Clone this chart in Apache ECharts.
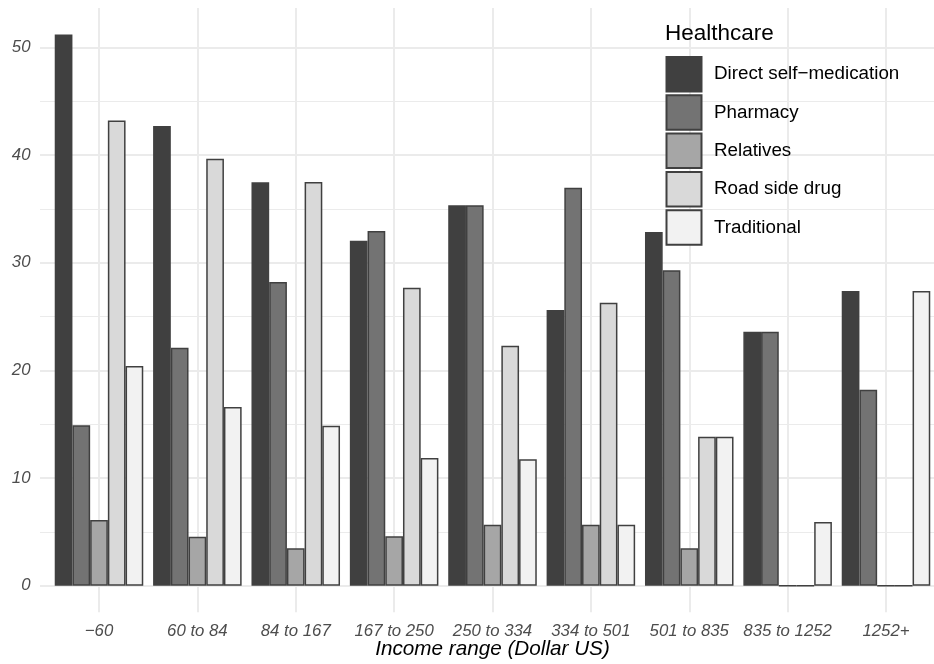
<!DOCTYPE html>
<html><head><meta charset="utf-8">
<script src="https://cdn.jsdelivr.net/npm/echarts@6/dist/echarts.min.js"></script>
<style>html,body{margin:0;padding:0;background:#fff}#c{width:934px;height:664px}</style>
</head><body><div id="c"></div>
<script>
const categories = ['\u221260', '60 to 84', '84 to 167', '167 to 250', '250 to 334', '334 to 501', '501 to 835', '835 to 1252', '1252+'];
const seriesNames = ['Direct self\u2212medication', 'Pharmacy', 'Relatives', 'Road side drug', 'Traditional'];
const directSelfMedication = [51.2, 42.7, 37.46, 32.04, 35.33, 25.6, 32.85, 23.59, 27.37];
const pharmacy = [14.9, 22.1, 28.2, 32.94, 35.33, 36.96, 29.3, 23.59, 18.2];
const relatives = [6.1, 4.55, 3.47, 4.6, 5.66, 5.66, 3.47, 0, 0];
const roadSideDrug = [43.2, 39.65, 37.5, 27.67, 22.29, 26.28, 13.84, 0, 0];
const traditional = [20.4, 16.6, 14.85, 11.86, 11.74, 5.66, 13.84, 5.92, 27.37];
const yTickStep = 10;
const fills = ['#404040', '#737373', '#a6a6a6', '#d9d9d9', '#f2f2f2'];
const values = [directSelfMedication, pharmacy, relatives, roadSideDrug, traditional];

const FONT = "'Liberation Sans', Arial, sans-serif";
const chart = echarts.init(document.getElementById('c'), null, {renderer: 'canvas'});
chart.setOption({
  animation: false,
  backgroundColor: '#ffffff',
  title: {
    text: 'Healthcare', left: 665, top: 22, padding: 0,
    textStyle: {fontFamily: FONT, fontSize: 22.5, fontWeight: 'normal', color: '#000000'}
  },
  legend: {
    orient: 'vertical', left: 665.5, top: 56, padding: 0,
    itemWidth: 35, itemHeight: 34.5, itemGap: 1.8,
    icon: 'rect',
    data: seriesNames,
    textStyle: {fontFamily: FONT, fontSize: 18.8, color: '#000000', padding: [0, 0, 0, 7.5]}
  },
  grid: [
    {left: 40, right: 0, top: -6.5, bottom: 78.3, containLabel: false, outerBoundsMode: 'none'},
    {left: 99, right: 48, top: 8, bottom: 51.7, containLabel: false, outerBoundsMode: 'none'}
  ],
  xAxis: [
    {gridIndex: 0, type: 'value', min: 0, max: 1, show: false},
    {
      gridIndex: 1, type: 'category', data: categories, boundaryGap: false,
      axisLine: {show: false}, axisTick: {show: false},
      splitLine: {show: true, lineStyle: {color: '#ebebeb', width: 2}},
      axisLabel: {margin: 11, fontFamily: FONT, fontSize: 16.8, fontStyle: 'italic', color: '#4d4d4d', interval: 0},
      name: 'Income range (Dollar US)', nameLocation: 'middle', nameGap: 26, nameMoveOverlap: false,
      nameTextStyle: {fontFamily: FONT, fontSize: 20.7, fontStyle: 'italic', color: '#000000'}
    }
  ],
  yAxis: [
    {
      gridIndex: 0, type: 'value', min: 0, max: 55, interval: yTickStep,
      axisLine: {show: false}, axisTick: {show: false},
      splitLine: {show: true, lineStyle: {color: '#ebebeb', width: 2}},
      minorTick: {show: false, splitNumber: 2},
      minorSplitLine: {show: true, lineStyle: {color: '#ebebeb', width: 1.1}},
      axisLabel: {
        margin: 9.5, fontFamily: FONT, fontSize: 16.8, fontStyle: 'italic', color: '#4d4d4d',
        formatter: v => (v % yTickStep === 0 ? String(v) : '')
      }
    },
    {gridIndex: 1, type: 'value', min: -2.47, max: 53.65, show: false, splitLine: {show: false}}
  ],
  series: seriesNames.map((name, i) => ({
    name: name, type: 'bar', xAxisIndex: 1, yAxisIndex: 1,
    data: values[i], clip: false,
    barCategoryGap: '10%', barGap: '0%',
    itemStyle: {color: fills[i], borderColor: '#404040', borderWidth: 1.5},
    emphasis: {disabled: true}
  }))
});
</script></body></html>
